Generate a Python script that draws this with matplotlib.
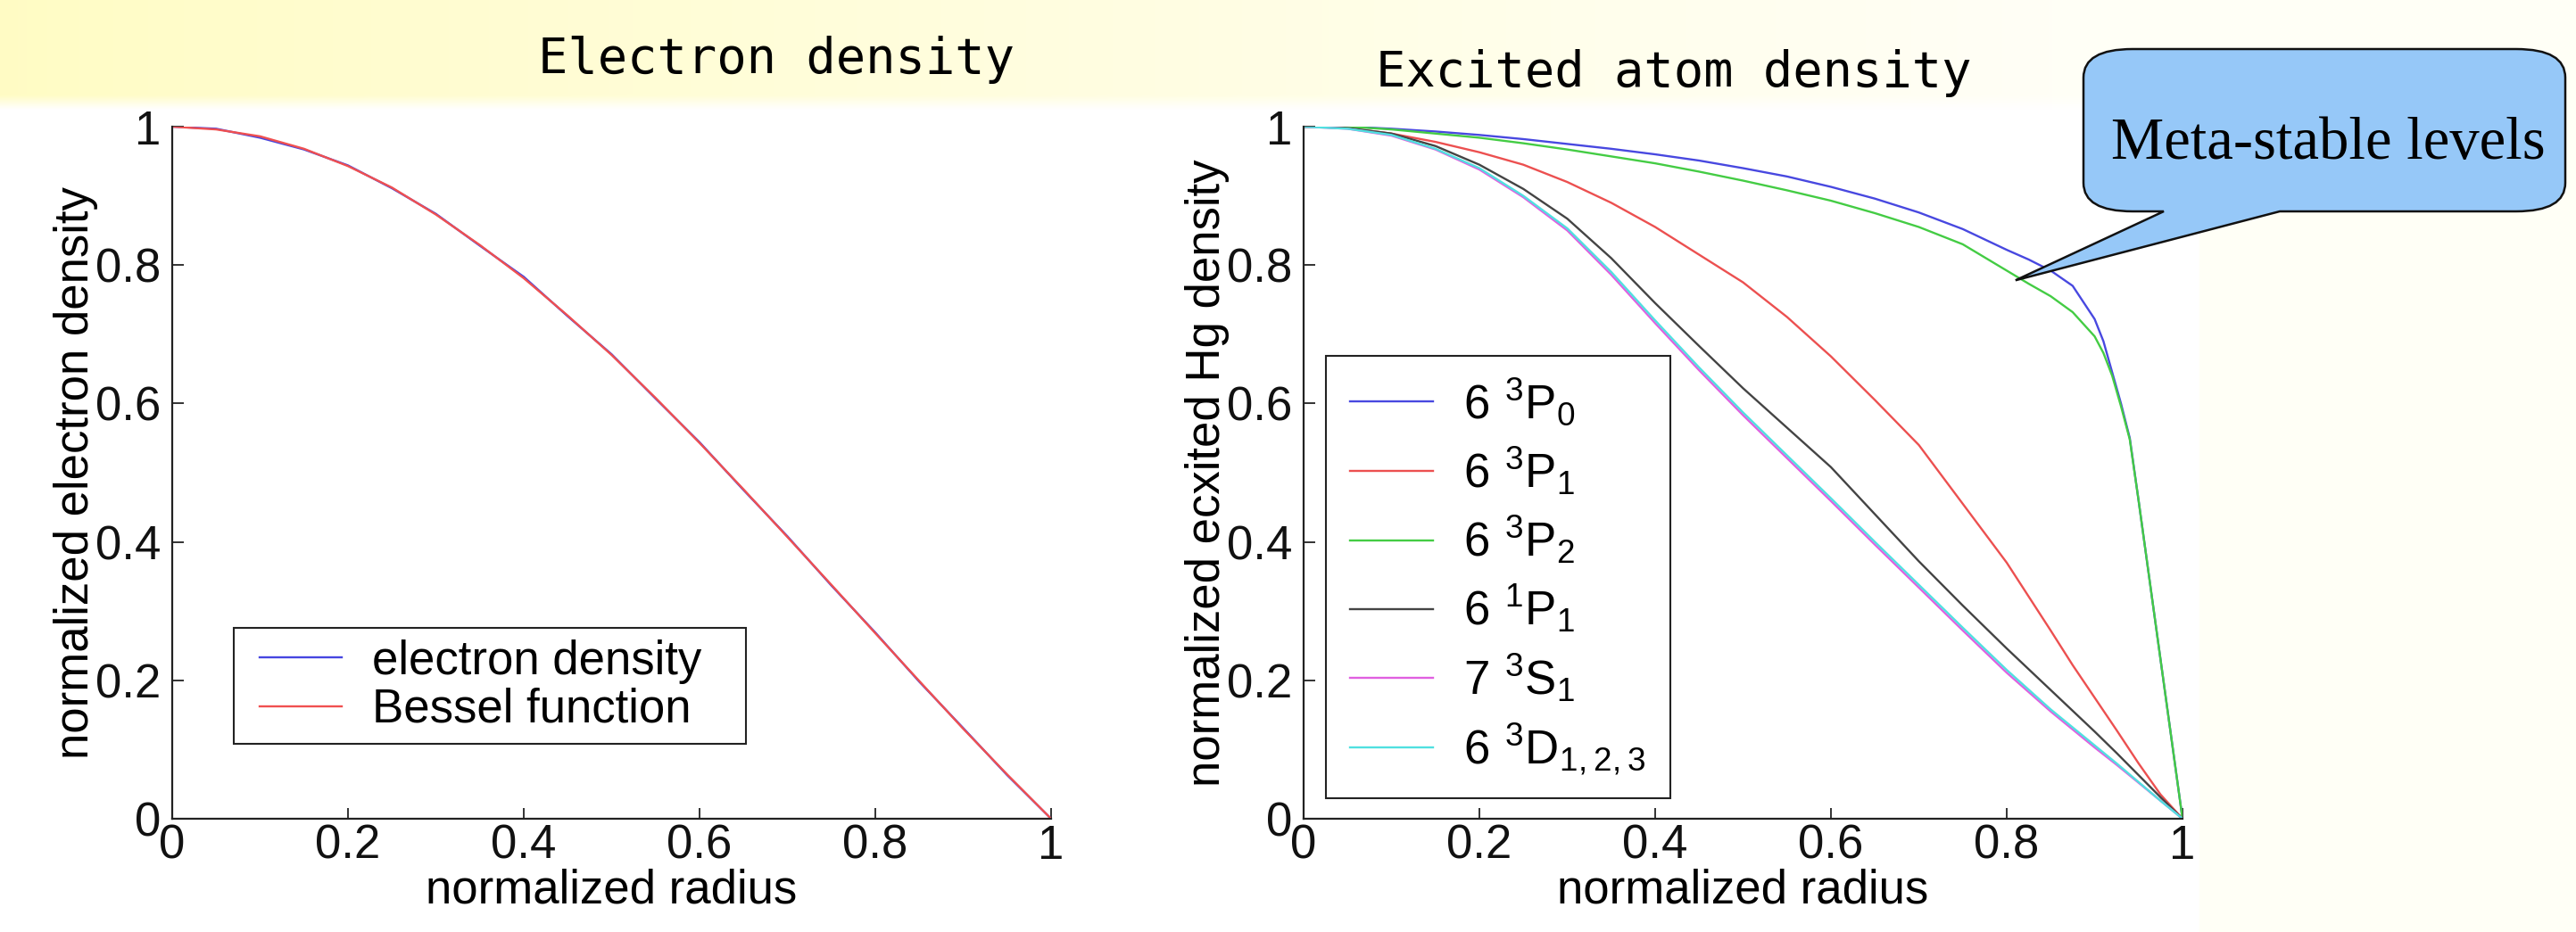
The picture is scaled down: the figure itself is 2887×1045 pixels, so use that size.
import numpy as np
import matplotlib
matplotlib.use("Agg")
import matplotlib.pyplot as plt
from matplotlib.path import Path
from matplotlib.patches import PathPatch
from matplotlib.transforms import IdentityTransform
from matplotlib.lines import Line2D
from matplotlib.legend_handler import HandlerLine2D

# ---------------- data ----------------
r_left = [0.00, 0.05, 0.10, 0.15, 0.20, 0.25, 0.30, 0.35, 0.40, 0.45, 0.50,
          0.55, 0.60, 0.65, 0.70, 0.75, 0.80, 0.85, 0.90, 0.95, 1.00]
electron_density = [1.000, 0.997, 0.984, 0.967, 0.944, 0.911, 0.874, 0.828, 0.783, 0.726, 0.671,
                    0.607, 0.544, 0.475, 0.408, 0.337, 0.269, 0.198, 0.131, 0.063, 0.000]
bessel_function = [1.000, 0.996, 0.986, 0.968, 0.943, 0.912, 0.873, 0.829, 0.781, 0.727, 0.670,
                   0.608, 0.543, 0.476, 0.407, 0.338, 0.268, 0.199, 0.130, 0.064, 0.000]
left_labels = ["electron density", "Bessel function"]

# meta-stable levels (sharp knee near the wall)
r_meta = [0.00, 0.05, 0.10, 0.15, 0.20, 0.25, 0.30, 0.35, 0.40, 0.45, 0.50, 0.55, 0.60,
          0.65, 0.70, 0.75, 0.80, 0.825, 0.85, 0.875, 0.90, 0.91, 0.92, 0.93, 0.94,
          0.95, 0.975, 1.00]
p3_0 = [1.000, 1.000, 0.997, 0.993, 0.988, 0.982, 0.975, 0.968, 0.960, 0.951, 0.940, 0.928,
        0.913, 0.896, 0.876, 0.852, 0.822, 0.808, 0.792, 0.770, 0.722, 0.690, 0.645, 0.600,
        0.550, 0.460, 0.230, 0.000]
p3_2 = [1.000, 1.000, 0.996, 0.990, 0.984, 0.976, 0.967, 0.957, 0.947, 0.935, 0.922, 0.908,
        0.893, 0.875, 0.855, 0.830, 0.792, 0.773, 0.755, 0.732, 0.697, 0.673, 0.640, 0.596,
        0.548, 0.460, 0.230, 0.000]

r_right = [0.00, 0.05, 0.10, 0.15, 0.20, 0.25, 0.30, 0.35, 0.40, 0.45, 0.50, 0.55,
           0.60, 0.65, 0.70, 0.75, 0.80, 0.85, 0.875, 0.90, 0.925, 0.95, 0.975, 1.00]
p3_1 = [1.000, 0.998, 0.990, 0.978, 0.963, 0.945, 0.920, 0.890, 0.855, 0.815, 0.775, 0.725,
        0.668, 0.605, 0.540, 0.455, 0.370, 0.272, 0.222, 0.175, 0.128, 0.080, 0.035, 0.000]
p1_1 = [1.000, 0.998, 0.990, 0.972, 0.945, 0.910, 0.867, 0.810, 0.745, 0.683, 0.622, 0.565,
        0.508, 0.440, 0.372, 0.308, 0.246, 0.186, 0.156, 0.126, 0.095, 0.063, 0.031, 0.000]
s3_1 = [1.000, 0.997, 0.987, 0.967, 0.938, 0.898, 0.850, 0.786, 0.716, 0.648, 0.583, 0.521,
        0.459, 0.396, 0.334, 0.272, 0.211, 0.155, 0.129, 0.103, 0.078, 0.052, 0.026, 0.000]
d3_123 = [1.000, 0.997, 0.988, 0.968, 0.940, 0.900, 0.853, 0.790, 0.720, 0.652, 0.587, 0.525,
          0.463, 0.400, 0.338, 0.276, 0.215, 0.158, 0.132, 0.106, 0.080, 0.053, 0.026, 0.000]
right_labels = [r"$\mathregular{6\ {}^{3}P_{0}}$", r"$\mathregular{6\ {}^{3}P_{1}}$",
                r"$\mathregular{6\ {}^{3}P_{2}}$", r"$\mathregular{6\ {}^{1}P_{1}}$",
                r"$\mathregular{7\ {}^{3}S_{1}}$", r"$\mathregular{6\ {}^{3}D_{1,2,3}}$"]

ticks = [0, 0.2, 0.4, 0.6, 0.8, 1.0]
tick_labels = ["0", "0.2", "0.4", "0.6", "0.8", "1"]

# ---------------- figure ----------------
W, H = 2887, 1045
plt.rcParams["font.family"] = ["Liberation Sans", "DejaVu Sans"]
fig = plt.figure(figsize=(W / 100, H / 100), dpi=100)

def fx(x):
    return x / W

def fy(y):
    return 1 - y / H

# slide background
bg = fig.add_axes([0, 0, 1, 1], zorder=-10)
bg.axis("off")
Wg, Hg = W // 2, H // 2
xs = np.linspace(0, W, Wg)[None, :]
ys = np.linspace(0, H, Hg)[:, None]
cream = np.array([1.0, 1.0, 0.965])
white = np.array([1.0, 1.0, 1.0])
yellow = np.array([1.0, 0.988, 0.77])
t = np.clip(xs / 2300.0, 0, 1) ** 0.9
band = yellow * (1 - t[..., None]) + cream * t[..., None]
vb = np.clip((ys - 106) / 16.0, 0, 1)
lower = np.where((xs < 2465)[..., None], white, cream)
img = band * (1 - vb[..., None]) + lower * vb[..., None]
bg.imshow(img, aspect="auto", extent=[0, W, H, 0], interpolation="bilinear")
bg.set_xlim(0, W)
bg.set_ylim(H, 0)

FS = 38
ax1 = fig.add_axes([fx(193), fy(918), 985 / W, 776 / H])
ax2 = fig.add_axes([fx(1461), fy(918), 985 / W, 776 / H])

def style(ax, ylabel):
    ax.set_xlim(0, 1)
    ax.set_ylim(0, 1)
    ax.patch.set_alpha(0)
    for s in ["top", "right"]:
        ax.spines[s].set_visible(False)
    for s in ["left", "bottom"]:
        ax.spines[s].set_linewidth(1.6)
        ax.spines[s].set_color("#222222")
    ax.set_xticks(ticks)
    ax.set_xticklabels(tick_labels)
    ax.set_yticks(ticks)
    ax.set_yticklabels(tick_labels)
    ax.tick_params(direction="in", length=9, width=1.2, labelsize=FS, colors="#111111")
    ax.tick_params(axis="x", pad=4)
    ax.tick_params(axis="y", pad=9)
    ax.set_xlabel("normalized radius", fontsize=FS, labelpad=0)
    ax.set_ylabel(ylabel, fontsize=FS, labelpad=-2)

style(ax1, "normalized electron density")
style(ax2, "normalized ecxited Hg density")

# left panel
lw = 1.7
l1, = ax1.plot(r_left, electron_density, color="#4646e0", lw=lw)
l2, = ax1.plot(r_left, bessel_function, color="#f05050", lw=lw)
leg1 = ax1.legend([l1, l2], left_labels, loc="lower left",
                  bbox_to_anchor=(0.07, 0.108, 0.583, 0.192), mode="expand",
                  fontsize=FS, frameon=True, fancybox=False, framealpha=1,
                  edgecolor="#222222", borderpad=0.25, handlelength=2.05,
                  handletextpad=0.64, labelspacing=0.08, borderaxespad=0,
                  handler_map={Line2D: HandlerLine2D(xpad=0.3)})
leg1.get_frame().set_linewidth(1.5)

# right panel
colors = ["#4848e0", "#ec5050", "#44cc44", "#444444", "#e060e0", "#50e0e0"]
xs_list = [r_meta, r_right, r_meta, r_right, r_right, r_right]
series = [p3_0, p3_1, p3_2, p1_1, s3_1, d3_123]
handles = []
for xx, yy, c in zip(xs_list, series, colors):
    h, = ax2.plot(xx, yy, color=c, lw=lw)
    handles.append(h)
leg2 = ax2.legend(handles, right_labels, loc="lower left",
                  bbox_to_anchor=(0.025, 0.03, 0.392, 0.654), mode="expand",
                  fontsize=FS, frameon=True, fancybox=False, framealpha=1,
                  edgecolor="#222222", borderpad=0.44, handlelength=1.84,
                  handletextpad=0.64, labelspacing=0.36, borderaxespad=0,
                  handler_map={Line2D: HandlerLine2D(xpad=0.08)})
leg2.get_frame().set_linewidth(1.5)

# slide titles
title_font = ["DejaVu Sans Mono"]
fig.text(fx(603), fy(82), "Electron density", fontsize=40, family=title_font,
         ha="left", va="baseline")
fig.text(fx(1542), fy(97), "Excited atom density", fontsize=40, family=title_font,
         ha="left", va="baseline")

# callout bubble
fig.canvas.draw()
tip = ax2.transData.transform((0.81, 0.778))
def dp(x, y):
    return (x, H - y)
L, R, T, B = 2335, 2875, 55, 237
rx, ry = 55, 32
b1, b2 = 2425, 2555
verts = [dp(L + rx, T), dp(R - rx, T), dp(R, T), dp(R, T + ry), dp(R, B - ry),
         dp(R, B), dp(R - rx, B), dp(b2, B), (tip[0], tip[1]), dp(b1, B),
         dp(L + rx, B), dp(L, B), dp(L, B - ry), dp(L, T + ry), dp(L, T), dp(L + rx, T),
         dp(L + rx, T)]
codes = [Path.MOVETO, Path.LINETO, Path.CURVE3, Path.CURVE3, Path.LINETO,
         Path.CURVE3, Path.CURVE3, Path.LINETO, Path.LINETO, Path.LINETO,
         Path.LINETO, Path.CURVE3, Path.CURVE3, Path.LINETO, Path.CURVE3, Path.CURVE3,
         Path.CLOSEPOLY]
bubble = PathPatch(Path(verts, codes), facecolor="#96c8f8", edgecolor="#111111",
                   lw=1.8, transform=IdentityTransform(), zorder=20)
fig.patches.append(bubble)
fig.text(fx(2609), fy(178), "Meta-stable levels", fontsize=48,
         family=["Liberation Serif", "DejaVu Serif"], ha="center", va="baseline", zorder=21)

fig.savefig("out.png", dpi=100)
